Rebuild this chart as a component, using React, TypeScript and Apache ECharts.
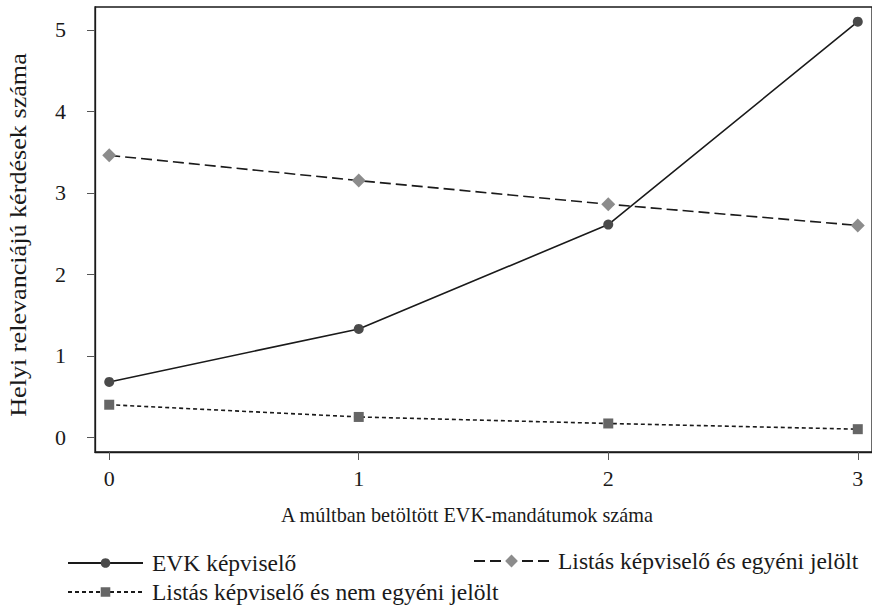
import React, { useEffect, useRef } from "react";
import * as echarts from "echarts";

const xValues = [0, 1, 2, 3];
const evk = [0.68, 1.33, 2.61, 5.1];
const listasEgyeni = [3.46, 3.15, 2.86, 2.6];
const listasNem = [0.4, 0.25, 0.17, 0.1];
const xTicks = [0, 1, 2, 3];
const yTicks = [0, 1, 2, 3, 4, 5];

const seriesNames = [
  "EVK képviselő",
  "Listás képviselő és egyéni jelölt",
  "Listás képviselő és nem egyéni jelölt",
];
const xTitle = "A múltban betöltött EVK-mandátumok száma";
const yTitle = "Helyi relevanciájú kérdések száma";

const FONT = "Liberation Serif";
const INK = "#1a1a1a";

export default function App() {
  const ref = useRef<HTMLDivElement>(null);
  useEffect(() => {
    if (!ref.current) return;
    const chart = echarts.init(ref.current, undefined, { renderer: "svg" });
    const pts = (arr: number[]) => arr.map((v, i) => [xValues[i], v]);
    const legendText = { fontFamily: FONT, fontSize: 23.5, color: INK, padding: [0, 0, 0, 4] };
    chart.setOption({
      animation: false,
      backgroundColor: "#fff",
      grid: {
        left: 95,
        top: 7,
        right: -4,
        bottom: 157,
        show: true,
        borderColor: INK,
        borderWidth: 1.3,
      },
      xAxis: {
        type: "value",
        min: -0.057,
        max: 3.057,
        axisLine: { show: true, onZero: false, lineStyle: { color: INK, width: 1.3 } },
        axisTick: { show: true, length: 8, customValues: xTicks, lineStyle: { color: "#555" } },
        axisLabel: { customValues: xTicks, fontFamily: FONT, fontSize: 22, color: INK, margin: 15 },
        splitLine: { show: false },
      },
      yAxis: {
        type: "value",
        min: -0.18,
        max: 5.28,
        axisLine: { show: true, onZero: false, lineStyle: { color: INK, width: 1.3 } },
        axisTick: { show: true, length: 8, customValues: yTicks, lineStyle: { color: "#555" } },
        axisLabel: { customValues: yTicks, fontFamily: FONT, fontSize: 22, color: INK, margin: 29 },
        splitLine: { show: false },
      },
      graphic: [
        {
          type: "text",
          x: 467,
          y: 515,
          scaleX: 0.92,
          style: {
            text: xTitle,
            font: `22px "${FONT}"`,
            fill: INK,
            align: "center",
            verticalAlign: "middle",
          },
        },
        {
          type: "text",
          x: 18,
          y: 235,
          rotation: Math.PI / 2,
          scaleX: 1.137,
          style: {
            text: yTitle,
            font: `23px "${FONT}"`,
            fill: INK,
            align: "center",
            verticalAlign: "middle",
          },
        },
      ],
      legend: [
        {
          left: 67,
          top: 551,
          padding: 0,
          itemWidth: 75,
          itemHeight: 12,
          data: [seriesNames[0]],
          textStyle: legendText,
        },
        {
          left: 473,
          top: 549,
          padding: 0,
          itemWidth: 75,
          itemHeight: 16,
          data: [seriesNames[1]],
          textStyle: legendText,
        },
        {
          left: 67,
          top: 580,
          padding: 0,
          itemWidth: 75,
          itemHeight: 12,
          data: [seriesNames[2]],
          textStyle: legendText,
        },
      ],
      series: [
        {
          name: seriesNames[0],
          type: "line",
          data: pts(evk),
          symbol: "circle",
          symbolSize: 10,
          itemStyle: { color: "#4a4a4a" },
          lineStyle: { color: INK, width: 1.6, type: "solid" },
        },
        {
          name: seriesNames[1],
          type: "line",
          data: pts(listasEgyeni),
          symbol: "diamond",
          symbolSize: 14,
          itemStyle: { color: "#8c8c8c" },
          lineStyle: { color: INK, width: 1.6, type: [11, 5] },
        },
        {
          name: seriesNames[2],
          type: "line",
          data: pts(listasNem),
          symbol: "rect",
          symbolSize: 10,
          itemStyle: { color: "#666" },
          lineStyle: { color: INK, width: 1.6, type: [4, 3] },
        },
      ],
    });
    return () => chart.dispose();
  }, []);
  return <div ref={ref} style={{ width: 872, height: 609, position: "absolute", left: 0, top: 0 }} />;
}
